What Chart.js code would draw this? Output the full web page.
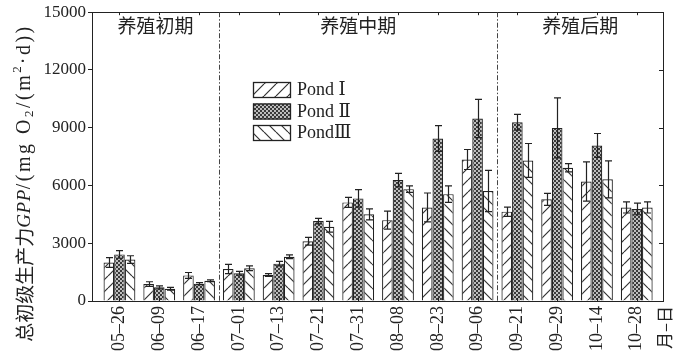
<!DOCTYPE html>
<html>
<meta charset="UTF-8">
<script src="https://cdn.jsdelivr.net/npm/chart.js"></script>
<head>
    <title>GPP</title>
    <style>
        html, body { margin: 0; padding: 0; background: #fff; }
        #wrap { width: 673px; height: 359px; }
    </style>
</head>
<body>
<div id="wrap"><canvas id="chart" width="673" height="359"></canvas></div>
<script>
    // 采样日期（月–日）
    const dates = ['05–26', '06–09', '06–17', '07–01', '07–13', '07–21', '07–31',
        '08–08', '08–23', '09–06', '09–21', '09–29', '10–14', '10–28'];
    const seriesNames = ['Pond Ⅰ', 'Pond Ⅱ', 'PondⅢ'];
    // GPP 均值与标准差 mg O2/(m2·d)
    const pond1 = [2000, 880, 1330, 1660, 1350, 3100, 5120, 4200, 4860, 7350, 4640, 5280, 6210, 4860];
    const pond1Err = [250, 120, 150, 240, 70, 200, 260, 470, 750, 520, 240, 310, 1020, 290];
    const pond2 = [2420, 710, 900, 1440, 1940, 4150, 5330, 6280, 8440, 9480, 9280, 8990, 8080, 4780];
    const pond2Err = [200, 80, 50, 100, 120, 140, 450, 350, 670, 990, 410, 1560, 620, 300];
    const pond3 = [2150, 640, 1050, 1700, 2300, 3860, 4500, 5810, 5550, 5710, 7300, 6920, 6320, 4860];
    const pond3Err = [200, 70, 50, 120, 100, 280, 290, 170, 430, 1070, 880, 210, 960, 290];
    const yTicks = [0, 3000, 6000, 9000, 12000, 15000];
    // 养殖阶段及分界（位于两个采样日之间）
    const periods = ['养殖初期', '养殖中期', '养殖后期'];
    const periodBreaks = [2.5, 9.5];

    const SERIF = '"Liberation Serif", "DejaVu Serif", serif';
    const CJK = '"Noto Sans CJK SC", sans-serif';
    const INK = '#222';

    // 填充图案
    function hatch(dir) {
        const c = document.createElement('canvas');
        c.width = 12; c.height = 12;
        const g = c.getContext('2d');
        g.fillStyle = '#fff';
        g.fillRect(0, 0, 12, 12);
        g.strokeStyle = '#333';
        g.lineWidth = 1.2;
        g.beginPath();
        for (let k = -1; k <= 1; k++) {
            if (dir > 0) { g.moveTo(k * 12, 12); g.lineTo(k * 12 + 12, 0); }
            else { g.moveTo(k * 12, 0); g.lineTo(k * 12 + 12, 12); }
        }
        g.stroke();
        return g.createPattern(c, 'repeat');
    }
    function dots() {
        const c = document.createElement('canvas');
        c.width = 4; c.height = 4;
        const g = c.getContext('2d');
        g.fillStyle = '#3a3a3a';
        g.fillRect(0, 0, 4, 4);
        g.fillStyle = '#fff';
        g.beginPath();
        g.arc(1, 1, 0.9, 0, Math.PI * 2);
        g.arc(3, 3, 0.9, 0, Math.PI * 2);
        g.fill();
        return g.createPattern(c, 'repeat');
    }
    const fills = [hatch(1), dots(), hatch(-1)];
    const errs = [pond1Err, pond2Err, pond3Err];

    const extras = {
        id: 'extras',
        afterDatasetsDraw(chart) {
            const ctx = chart.ctx;
            const a = chart.chartArea;
            const xs = chart.scales.x, ys = chart.scales.y;
            ctx.save();

            // 误差线
            ctx.strokeStyle = INK;
            ctx.lineWidth = 1.2;
            chart.data.datasets.forEach((ds, di) => {
                chart.getDatasetMeta(di).data.forEach((el, i) => {
                    const v = ds.data[i].y, e = errs[di][i];
                    const x = Math.round(el.x) + 0.5;
                    const y1 = ys.getPixelForValue(v + e), y2 = ys.getPixelForValue(v - e);
                    ctx.beginPath();
                    ctx.moveTo(x, y1); ctx.lineTo(x, y2);
                    ctx.moveTo(x - 3.5, y1); ctx.lineTo(x + 3.5, y1);
                    ctx.moveTo(x - 3.5, y2); ctx.lineTo(x + 3.5, y2);
                    ctx.stroke();
                });
            });

            // 边框与内侧刻度
            ctx.lineWidth = 1;
            ctx.strokeStyle = INK;
            ctx.strokeRect(Math.round(a.left) + 0.5, Math.round(a.top) + 0.5,
                Math.round(a.right - a.left), Math.round(a.bottom - a.top));
            ctx.beginPath();
            yTicks.forEach(t => {
                const y = Math.round(ys.getPixelForValue(t)) + 0.5;
                ctx.moveTo(a.right - 4, y); ctx.lineTo(a.right, y);
            });
            dates.forEach((d, i) => {
                const x = Math.round(xs.getPixelForValue(i)) + 0.5;
                ctx.moveTo(x, a.bottom); ctx.lineTo(x, a.bottom - 3);
                ctx.moveTo(x, a.top); ctx.lineTo(x, a.top + 3);
            });
            ctx.stroke();

            // 阶段分界线
            ctx.strokeStyle = '#444';
            ctx.setLineDash([5, 2, 1.5, 2]);
            periodBreaks.forEach(b => {
                const x = Math.round(xs.getPixelForValue(b)) + 0.5;
                ctx.beginPath();
                ctx.moveTo(x, a.top); ctx.lineTo(x, a.bottom);
                ctx.stroke();
            });
            ctx.setLineDash([]);

            // 阶段名称
            const edges = [a.left, ...periodBreaks.map(b => xs.getPixelForValue(b)), a.right];
            ctx.fillStyle = INK;
            ctx.font = '19px ' + CJK;
            ctx.textAlign = 'center';
            ctx.textBaseline = 'middle';
            periods.forEach((p, i) => ctx.fillText(p, (edges[i] + edges[i + 1]) / 2, 26));

            // 图例
            seriesNames.forEach((n, i) => {
                const y = 82 + i * 21.5;
                ctx.fillStyle = fills[i];
                ctx.fillRect(253, y, 38, 16);
                ctx.strokeStyle = INK;
                ctx.lineWidth = 1.3;
                ctx.strokeRect(253.5, y + 0.5, 37, 15);
                ctx.fillStyle = INK;
                ctx.textAlign = 'left';
                ctx.font = '18px ' + SERIF + ', ' + CJK;
                ctx.fillText(n, 297, y + 8.5);
            });

            // 横轴单位
            ctx.save();
            ctx.translate(665, 306);
            ctx.rotate(-Math.PI / 2);
            ctx.textAlign = 'right';
            ctx.font = '17px ' + CJK;
            ctx.fillText('月–日', 0, 0);
            ctx.restore();

            // 纵轴标题
            const segs = [
                { t: '总初级生产力', f: '19px ' + CJK, dy: 0, sp: 0 },
                { t: 'GPP', f: 'italic 19px ' + SERIF, dy: 0, sp: 0.5 },
                { t: '/(mg O', f: '20px ' + SERIF, dy: 0, sp: 2.5 },
                { t: '2', f: '13px ' + SERIF, dy: 5, sp: 2.5 },
                { t: '/(m', f: '20px ' + SERIF, dy: 0, sp: 2.5 },
                { t: '2', f: '13px ' + SERIF, dy: -7, sp: 2 },
                { t: '·d))', f: '20px ' + SERIF, dy: 0, sp: 2.5 }
            ];
            let total = 0;
            segs.forEach(s => {
                ctx.font = s.f;
                ctx.letterSpacing = s.sp + 'px';
                s.w = ctx.measureText(s.t).width;
                total += s.w;
            });
            ctx.save();
            ctx.translate(25, 183);
            ctx.rotate(-Math.PI / 2);
            ctx.textAlign = 'left';
            ctx.textBaseline = 'middle';
            let px = -total / 2;
            segs.forEach(s => {
                ctx.font = s.f;
                ctx.letterSpacing = s.sp + 'px';
                ctx.fillText(s.t, px, s.dy);
                px += s.w;
            });
            ctx.letterSpacing = '0px';
            ctx.restore();

            ctx.restore();
        }
    };

    const ctx = document.getElementById('chart').getContext('2d');
    new Chart(ctx, {
        type: 'bar',
        data: {
            datasets: [pond1, pond2, pond3].map((vals, k) => ({
                label: seriesNames[k],
                data: vals.map((v, i) => ({ x: i, y: v })),
                backgroundColor: fills[k],
                borderColor: INK,
                borderWidth: 1.2,
                categoryPercentage: 0.8,
                barPercentage: 1.0
            }))
        },
        options: {
            responsive: false,
            animation: false,
            layout: { padding: { left: 0, right: 10, top: 12, bottom: 0 } },
            plugins: { legend: { display: false }, tooltip: { enabled: false } },
            scales: {
                x: {
                    type: 'linear',
                    offset: false,
                    min: -0.69,
                    max: 13.66,
                    afterBuildTicks: s => { s.ticks = dates.map((d, i) => ({ value: i })); },
                    afterFit: s => { s.height = 58; },
                    grid: { display: false, drawTicks: false },
                    border: { display: true, color: INK, width: 1 },
                    ticks: {
                        autoSkip: false,
                        minRotation: 90,
                        maxRotation: 90,
                        padding: 5,
                        color: INK,
                        font: { family: SERIF, size: 18 },
                        callback: v => dates[v] ?? ''
                    }
                },
                y: {
                    min: 0,
                    max: 15000,
                    afterBuildTicks: s => { s.ticks = yTicks.map(v => ({ value: v })); },
                    afterFit: s => { s.width = 92; },
                    grid: { drawOnChartArea: false, drawTicks: true, tickLength: 4, color: INK },
                    border: { display: true, color: INK, width: 1 },
                    ticks: {
                        padding: 2,
                        color: INK,
                        font: { family: SERIF, size: 17 },
                        callback: v => String(v)
                    }
                }
            }
        },
        plugins: [extras]
    });
</script>
</body>
</html>
